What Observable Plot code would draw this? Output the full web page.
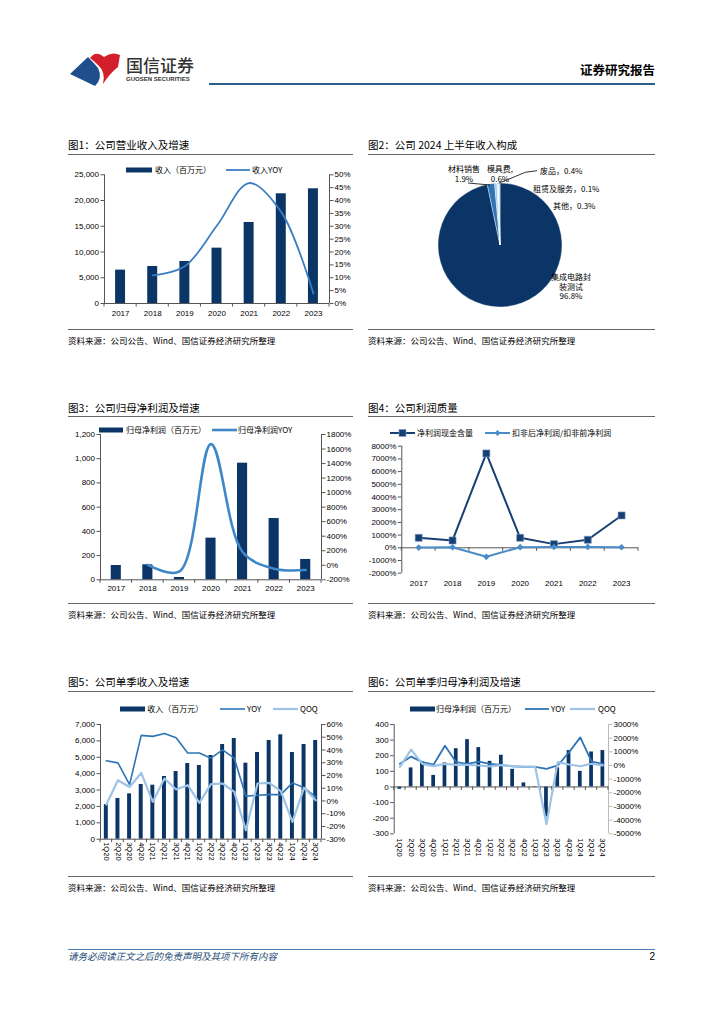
<!DOCTYPE html>
<html lang="zh">
<head>
<meta charset="utf-8">
<script src="https://cdn.jsdelivr.net/npm/d3@7"></script>
<script src="https://cdn.jsdelivr.net/npm/@observablehq/plot@0.6"></script>
<style>
html,body{margin:0;padding:0;background:#fff;}
#page{position:relative;width:724px;height:1024px;overflow:hidden;font-family:'Liberation Sans','Noto Sans CJK SC',sans-serif;color:#000;}
.t{position:absolute;white-space:nowrap;line-height:1;}
.ln{position:absolute;}
svg{overflow:visible;}
</style>
</head>
<body>
<div id="page"></div>
<script>
// ---------------- data ----------------
const years = ["2017","2018","2019","2020","2021","2022","2023"];
const revenue = [6480, 7190, 8160, 10750, 15740, 21310, 22280];
const revenueYoY = [null, 10.9, 14.5, 30.3, 46.8, 35.5, 3.9];
const netProfit = [118, 124, 19, 344, 963, 506, 168];
const netProfitYoY = [null, 4.5, -85, 1668, 183, -47.5, -66];
const cashContent = [787, 577, 7429, 787, 289, 630, 2546];
const deductRatio = [20, 40, -710, 50, 60, 70, 40];

const pieLabels = ["集成电路封装测试", "材料销售", "模具费", "废品", "租赁及服务", "其他"];
const pieValues = [96.8, 1.9, 0.6, 0.4, 0.1, 0.3];

const quarters = ["1Q20","2Q20","3Q20","4Q20","1Q21","2Q21","3Q21","4Q21","1Q22","2Q22","3Q22","4Q22","1Q23","2Q23","3Q23","4Q23","1Q24","2Q24","3Q24"];
const qRevenue = [2116, 2483, 2768, 3337, 3297, 3826, 4131, 4620, 4497, 5108, 5779, 6146, 4640, 5291, 6024, 6370, 5291, 5779, 6024];
const qRevYoY = [31.5, 29.9, 12.9, 51.5, 50.7, 53.0, 49.6, 37.6, 37.6, 33.6, 40.1, 33.6, 3.7, 4.5, 5.0, 5.0, 14.2, 10.3, 3.2];
const qRevQoQ = [-2.8, 16.3, 11.0, 22.0, -0.7, 17.6, 9.0, 12.4, -1.5, 13.2, 13.7, 7.1, -23.0, 13.7, 14.2, 7.7, -16.4, 10.3, 0.5];
const qProfit = [-15, 122, 160, 74, 154, 245, 303, 252, 164, 203, 113, 26, 3, -192, 122, 233, 100, 224, 233];
const qProfitYoY = [120, 650, 245, 70, 1450, 245, 120, 290, 120, 50, -70, -95, -100, -240, 0, 970, 2060, 290, 120];
const qProfitQoQ = [-100, 1160, 120, -50, 120, 50, 50, 0, -70, 24, -45, -77, -88, -4290, 245, 70, -57, 124, 5];

// ---------------- style ----------------
const FONT = "'Liberation Sans','Noto Sans CJK SC',sans-serif";
const CJK = "'Noto Sans CJK SC','Liberation Sans',sans-serif";
const NAVY = "#0a3566";
const MID = "#3a7ec2";
const LIGHT = "#9dc3e6";
const AX = "#555";

const page = document.getElementById("page");

function txt(s, x, y, size, o = {}) {
  const d = document.createElement("div");
  d.className = "t";
  d.textContent = s;
  d.style.fontSize = size + "px";
  d.style.left = x + "px";
  d.style.top = (y - size / 2) + "px";
  d.style.fontFamily = o.font || CJK;
  if (o.color) d.style.color = o.color;
  if (o.weight) d.style.fontWeight = o.weight;
  if (o.italic) d.style.fontStyle = "italic";
  if (o.ls) d.style.letterSpacing = o.ls;
  if (o.anchor === "end") d.style.transform = "translateX(-100%)";
  if (o.anchor === "middle") d.style.transform = "translateX(-50%)";
  page.appendChild(d);
  return d;
}
function hline(x1, x2, y, color, h = 1) {
  const d = document.createElement("div");
  d.className = "ln";
  d.style.left = x1 + "px"; d.style.width = (x2 - x1) + "px";
  d.style.top = y + "px"; d.style.height = h + "px";
  d.style.background = color;
  page.appendChild(d);
}
function place(node, left, top) {
  node.style.position = "absolute";
  node.style.left = left + "px";
  node.style.top = top + "px";
  page.appendChild(node);
}

// legend item drawing
function legend(y, items) {
  const s = d3.create("svg").attr("width", 724).attr("height", 14)
    .style("position", "absolute").style("left", "0px").style("top", (y - 7) + "px");
  for (const it of items) {
    if (it.type === "bar") {
      s.append("rect").attr("x", it.x1).attr("y", 7 - 2.5).attr("width", it.x2 - it.x1).attr("height", 5).attr("fill", it.color);
    } else {
      s.append("line").attr("x1", it.x1).attr("x2", it.x2).attr("y1", 7).attr("y2", 7)
        .attr("stroke", it.color).attr("stroke-width", it.w || 1.8);
      const cx = (it.x1 + it.x2) / 2;
      if (it.type === "square") s.append("rect").attr("x", cx - 3.5).attr("y", 3.5).attr("width", 7).attr("height", 7).attr("fill", it.color).attr("stroke", "#7da3cf").attr("stroke-width", 0.6);
      if (it.type === "diamond") s.append("path").attr("d", `M${cx},4 L${cx + 3},7 L${cx},10 L${cx - 3},7Z`).attr("fill", it.color);
    }
  }
  page.appendChild(s.node());
  for (const it of items) txt(it.label, it.tx, y, 8);
}

// tick marks at category boundaries on the zero line
function boundaryTicks(bounds, len, color) {
  return (index, scales) => {
    const g = d3.create("svg:g");
    const y0 = scales.y(0);
    for (const b of bounds) {
      const x = scales.x(b);
      g.append("line").attr("x1", x).attr("x2", x).attr("y1", y0).attr("y2", y0 + len)
        .attr("stroke", color).attr("stroke-width", 1);
    }
    return g.node();
  };
}

function dualChart(cfg) {
  const n = cfg.labels.length;
  const idx = d3.range(n);
  const L = cfg.left, R = cfg.right;
  const toL = R ? v => L.domain[0] + (v - R.domain[0]) / (R.domain[1] - R.domain[0]) * (L.domain[1] - L.domain[0]) : v => v;
  const fromL = R ? u => R.domain[0] + (u - L.domain[0]) / (L.domain[1] - L.domain[0]) * (R.domain[1] - R.domain[0]) : u => u;
  const marks = [];
  if (cfg.bars) {
    const hw = cfg.barFrac / 2;
    marks.push(Plot.rect(idx, {x1: i => i + 0.5 - hw, x2: i => i + 0.5 + hw, y1: () => 0, y2: i => cfg.bars[i], fill: NAVY}));
  }
  marks.push(Plot.ruleX([0], {stroke: AX, strokeWidth: 1}));
  if (R) marks.push(Plot.ruleX([n], {stroke: cfg.rightAxisColor || AX, strokeWidth: 1}));
  marks.push(Plot.ruleY([0], {stroke: AX, strokeWidth: 1}));
  marks.push(boundaryTicks(d3.range(n + 1), 3.5, AX));
  for (const s of cfg.lines || []) {
    const pts = idx.filter(i => s.values[i] != null);
    const conv = s.axis === "right" ? toL : v => v;
    marks.push(Plot.line(pts, {x: i => i + 0.5, y: i => conv(s.values[i]), stroke: s.color, strokeWidth: s.width, curve: s.curve || "linear"}));
    if (s.symbol) marks.push(Plot.dot(pts, {x: i => i + 0.5, y: i => conv(s.values[i]), symbol: s.symbol, r: s.r, fill: s.color, stroke: s.stroke || "none", strokeWidth: 0.6}));
  }
  marks.push(Plot.axisY({ticks: L.ticks, anchor: "left", tickSize: 3.5, tickPadding: 2, tickFormat: L.format, stroke: AX, fill: "#000"}));
  if (R) marks.push(Plot.axisY({ticks: R.ticks.map(toL), anchor: "right", tickSize: 3.5, tickPadding: 1.5, tickFormat: u => R.format(Math.round(fromL(u))), stroke: cfg.rightAxisColor || AX, fill: "#000"}));
  marks.push(Plot.axisX({ticks: idx.map(i => i + 0.5), anchor: "bottom", tickSize: 0, tickPadding: cfg.xPad, tickRotate: cfg.rotate || 0, tickFormat: u => cfg.labels[Math.floor(u)], fill: "#000", fontSize: cfg.xFont || 8}));
  return Plot.plot({
    width: cfg.width, height: cfg.height,
    marginTop: cfg.m[0], marginRight: cfg.m[1], marginBottom: cfg.m[2], marginLeft: cfg.m[3],
    x: {domain: [0, n], axis: null},
    y: {domain: L.domain, axis: null},
    style: {fontFamily: FONT, fontSize: "8px", background: "transparent", overflow: "visible"},
    marks
  });
}

const pct = d => d + "%";
const comma = d3.format(",");

// ---------------- header ----------------
(function header() {
  const s = d3.create("svg").attr("width", 60).attr("height", 40)
    .style("position", "absolute").style("left", "68px").style("top", "48px");
  s.append("path").attr("d", "M20 9 L2 26 L27 38 Q35 30 30 20 Q25 14 20 9Z").attr("fill", "#1f4e8c");
  s.append("path").attr("d", "M22 10 Q28 2 36 9 Q44 3 52 7 L50 19 Q42 25 35 36 Q38 24 30 17 Q26 13 22 10Z").attr("fill", "#d21f2b");
  page.appendChild(s.node());
  txt("国信证券", 126, 64, 17, {color: "#333", weight: 500});
  txt("GUOSEN SECURITIES", 126, 78.5, 6, {font: FONT, color: "#333", weight: "bold"});
  txt("证券研究报告", 655, 70, 12.5, {anchor: "end", weight: "bold"});
  hline(209, 655, 83, "#2c5d8f", 2);
  hline(68, 655, 949, "#4a7ebb", 1);
  txt("请务必阅读正文之后的免责声明及其项下所有内容", 68, 957, 9.5, {italic: true, color: "#1f4e79"});
  txt("2", 655, 957, 10, {anchor: "end", font: FONT});
})();

// ---------------- frames ----------------
const frames = [
  {x: 68, x2: 353, ty: 145, uy: 154, by: 329, sy: 340, title: "图1：公司营业收入及增速"},
  {x: 368, x2: 655, ty: 145, uy: 154, by: 329, sy: 340, title: "图2：公司 2024 上半年收入构成"},
  {x: 68, x2: 353, ty: 408, uy: 416, by: 603, sy: 614, title: "图3：公司归母净利润及增速"},
  {x: 368, x2: 655, ty: 408, uy: 416, by: 603, sy: 614, title: "图4：公司利润质量"},
  {x: 68, x2: 353, ty: 682, uy: 691, by: 876, sy: 887, title: "图5：公司单季收入及增速"},
  {x: 368, x2: 655, ty: 682, uy: 691, by: 876, sy: 887, title: "图6：公司单季归母净利润及增速"}
];
for (const f of frames) {
  txt(f.title, f.x, f.ty, 10.5);
  hline(f.x, f.x2, f.uy, "#666", 1);
  hline(f.x, f.x2, f.by, "#666", 1);
  txt("资料来源：公司公告、Wind、国信证券经济研究所整理", f.x, f.sy, 8.5);
}

// ---------------- chart 1 ----------------
place(dualChart({
  width: 298, height: 166, m: [12.3, 31, 25, 42],
  labels: years, bars: revenue, barFrac: 0.31, xPad: 6.5,
  left: {domain: [0, 25000], ticks: d3.range(0, 25001, 5000), format: comma},
  right: {domain: [0, 50], ticks: d3.range(0, 51, 5), format: pct},
  lines: [{values: revenueYoY, axis: "right", color: MID, width: 1.8, curve: "catmull-rom"}]
}), 62, 162);
legend(170, [
  {type: "bar", x1: 126, x2: 152, color: NAVY, label: "收入（百万元）", tx: 155},
  {type: "line", x1: 226, x2: 250, color: MID, label: "收入YOY", tx: 252}
]);

// ---------------- chart 2 (pie) ----------------
(function pie() {
  const cx = 132, cy = 87, r = 62;
  const colors = [NAVY, "#2e75b6", "#9dc3e6", "#d6e6f5", "#eef4fb", "#b4cfea"];
  const labelLayout = [
    {lines: ["集成电路封", "装测试", "96.8%"], x: 203, y: 119, anchor: "middle"},
    {lines: ["材料销售", "1.9%"], x: 96, y: 11, anchor: "middle"},
    {lines: ["模具费,", "0.6%"], x: 132, y: 11, anchor: "middle"},
    {lines: ["废品，0.4%"], x: 172, y: 12.7, anchor: "start"},
    {lines: ["租赁及服务，0.1%"], x: 165, y: 31.3, anchor: "start"},
    {lines: ["其他，0.3%"], x: 185, y: 48, anchor: "start"}
  ];
  const leaders = [
    [[100, 25], [122, 27]],
    [[130.7, 25.3], [157.3, 14.3], [169, 12.7]]
  ];
  const pieMark = () => {
    const g = d3.create("svg:g");
    const arcs = d3.pie().sort(null).value(d => d)(pieValues);
    const arc = d3.arc().innerRadius(0).outerRadius(r);
    g.selectAll("path").data(arcs).join("path")
      .attr("transform", `translate(${cx},${cy})`)
      .attr("d", arc).attr("fill", (d, i) => colors[i])
      .attr("stroke", "#fff").attr("stroke-width", 0.4);
    for (const l of leaders) {
      g.append("path").attr("d", d3.line()(l)).attr("fill", "none").attr("stroke", "#000").attr("stroke-width", 0.8);
    }
    labelLayout.forEach((lb, i) => {
      lb.lines.forEach((s, k) => {
        g.append("text").attr("x", lb.x).attr("y", lb.y + k * 9.7).attr("dy", "0.35em")
          .attr("text-anchor", lb.anchor).attr("font-size", 8).attr("font-family", CJK).attr("fill", "#000").text(s);
      });
    });
    return g.node();
  };
  place(Plot.plot({
    width: 287, height: 168, margin: 0,
    style: {background: "transparent", overflow: "visible"},
    marks: [pieMark]
  }), 368, 158);
})();

// ---------------- chart 3 ----------------
place(dualChart({
  width: 298, height: 176, m: [9, 39, 21.7, 38],
  labels: years, bars: netProfit, barFrac: 0.32, xPad: 5.5,
  left: {domain: [0, 1200], ticks: d3.range(0, 1201, 200), format: comma},
  right: {domain: [-200, 1800], ticks: d3.range(-200, 1801, 200), format: pct},
  lines: [{values: netProfitYoY, axis: "right", color: "#3f87c8", width: 2.6, curve: "catmull-rom"}]
}), 62, 425);
legend(430, [
  {type: "bar", x1: 99, x2: 123, color: NAVY, label: "归母净利润（百万元）", tx: 126},
  {type: "line", x1: 212, x2: 237, color: "#3f87c8", w: 2.6, label: "归母净利润YOY", tx: 238}
]);

// ---------------- chart 4 ----------------
place(dualChart({
  width: 295, height: 172, m: [20.7, 19, 24.3, 39.3],
  labels: years, xPad: 7,
  left: {domain: [-2000, 8000], ticks: d3.range(-2000, 8001, 1000), format: pct},
  lines: [
    {values: cashContent, color: "#173f72", width: 2, symbol: "square", r: 4, stroke: "#7da3cf"},
    {values: deductRatio, color: "#4a8cc8", width: 2, symbol: "diamond2", r: 3}
  ]
}), 362, 425);
legend(432.7, [
  {type: "square", x1: 390, x2: 415, color: "#173f72", w: 2, label: "净利润现金含量", tx: 417},
  {type: "diamond", x1: 485, x2: 510, color: "#4a8cc8", w: 2, label: "扣非后净利润/扣非前净利润", tx: 512}
]);

// ---------------- chart 5 ----------------
place(dualChart({
  width: 298, height: 160, m: [9, 39, 36.3, 38],
  labels: quarters, bars: qRevenue, barFrac: 0.34, xPad: 3, rotate: 90, xFont: 7.5,
  left: {domain: [0, 7000], ticks: d3.range(0, 7001, 1000), format: comma},
  right: {domain: [-30, 60], ticks: d3.range(-30, 61, 10), format: pct},
  lines: [
    {values: qRevYoY, axis: "right", color: "#2e75b6", width: 1.6},
    {values: qRevQoQ, axis: "right", color: LIGHT, width: 2.2}
  ]
}), 62, 715);
legend(708.7, [
  {type: "bar", x1: 120, x2: 145, color: NAVY, label: "收入（百万元）", tx: 147.3},
  {type: "line", x1: 220, x2: 245, color: "#2e75b6", w: 1.6, label: "YOY", tx: 247},
  {type: "line", x1: 273, x2: 298, color: LIGHT, w: 2.2, label: "QOQ", tx: 300}
]);

// ---------------- chart 6 ----------------
place(dualChart({
  width: 295, height: 160, m: [9, 49, 41.7, 31.7],
  labels: quarters, bars: qProfit, barFrac: 0.33, xPad: 4.5, rotate: 90, xFont: 7.5,
  rightAxisColor: "#bbb",
  left: {domain: [-300, 400], ticks: d3.range(-300, 401, 100), format: d => String(d)},
  right: {domain: [-5000, 3000], ticks: d3.range(-5000, 3001, 1000), format: pct},
  lines: [
    {values: qProfitYoY, axis: "right", color: "#2e75b6", width: 1.8},
    {values: qProfitQoQ, axis: "right", color: LIGHT, width: 2.2}
  ]
}), 362, 715);
legend(708.7, [
  {type: "bar", x1: 410, x2: 435, color: NAVY, label: "归母净利润（百万元）", tx: 436},
  {type: "line", x1: 525, x2: 549, color: "#2e75b6", w: 1.8, label: "YOY", tx: 551},
  {type: "line", x1: 570, x2: 595, color: LIGHT, w: 2.2, label: "QOQ", tx: 598}
]);
</script>
</body>
</html>
